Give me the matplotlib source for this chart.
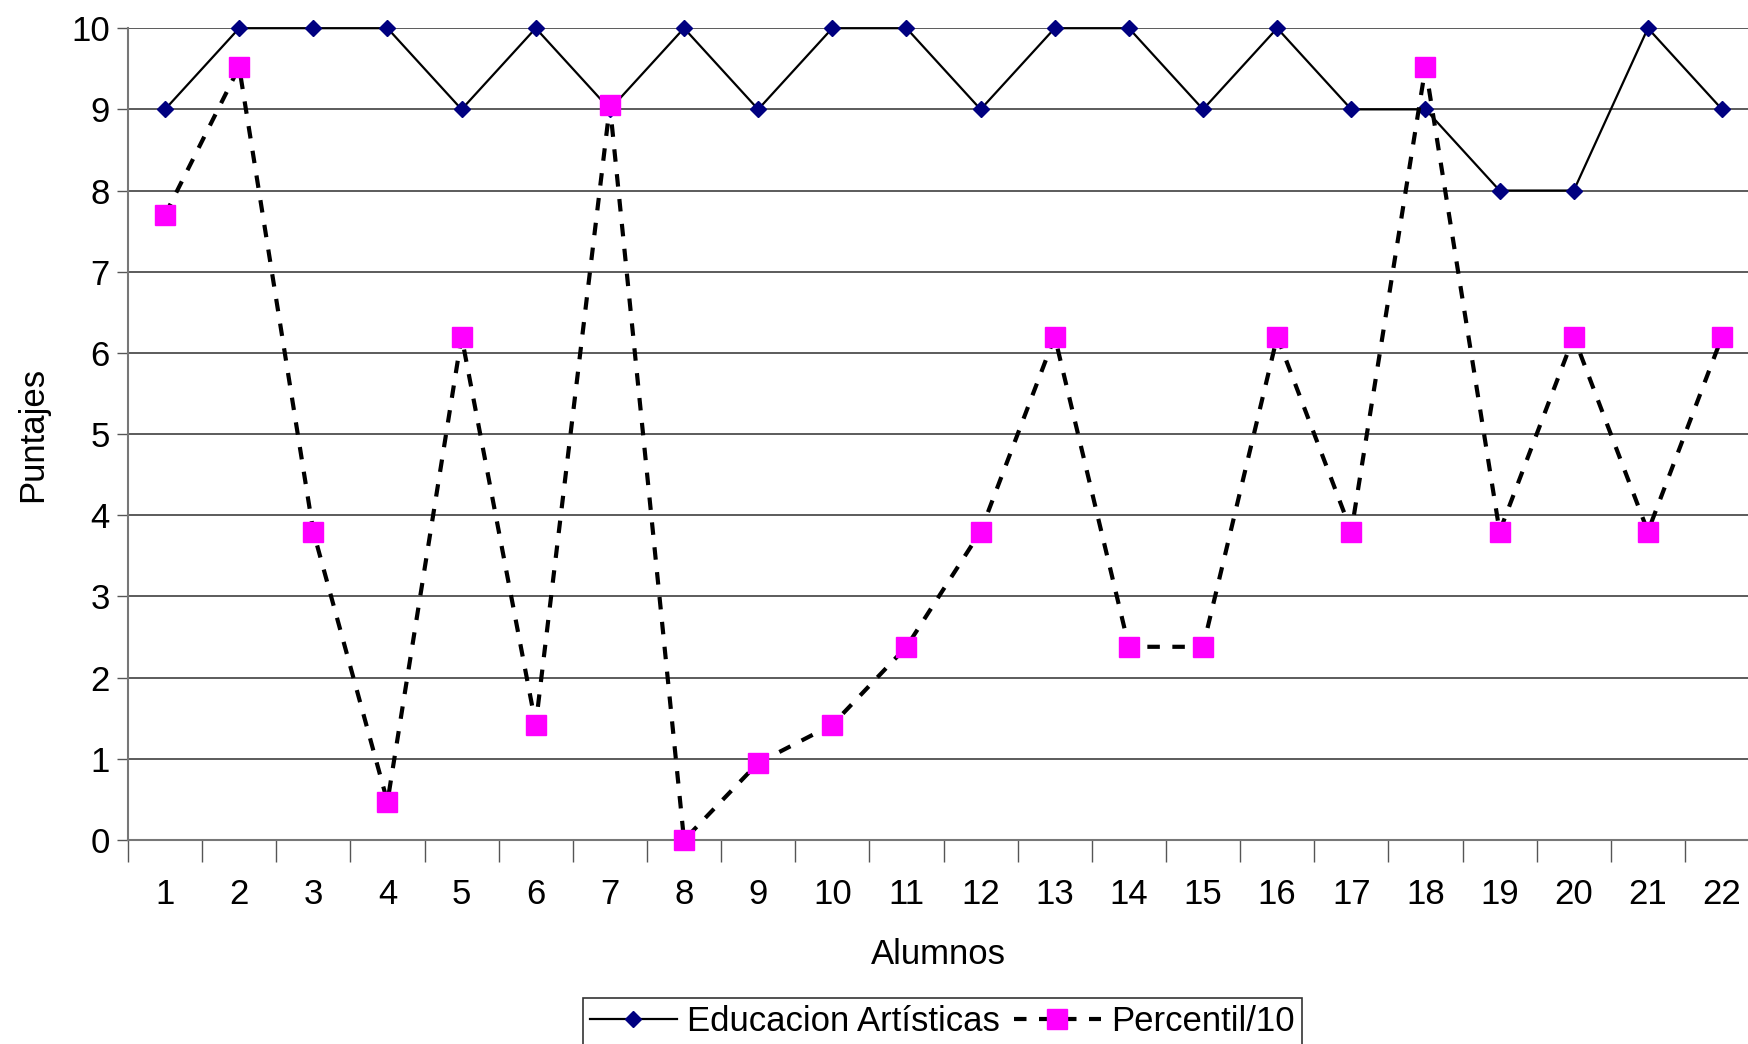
import matplotlib
matplotlib.use("Agg")
import matplotlib.pyplot as plt

alumnos = list(range(1, 23))
educacion = [9, 10, 10, 10, 9, 10, 9, 10, 9, 10, 10, 9, 10, 10, 9, 10, 9, 9, 8, 8, 10, 9]
percentil = [7.7, 9.52, 3.8, 0.47, 6.2, 1.42, 9.05, 0.0, 0.95, 1.42, 2.38, 3.8,
             6.2, 2.38, 2.38, 6.2, 3.8, 9.52, 3.8, 6.2, 3.8, 6.2]
y_ticks = list(range(0, 11))

plt.rcParams['font.family'] = ['Liberation Sans', 'DejaVu Sans']

fig = plt.figure(figsize=(17.48, 10.44), dpi=100)
ax = fig.add_axes([0.0732, 0.1954, 0.9268, 0.7776])

ax.plot(alumnos, educacion, color='black', lw=1.6, marker='D', markersize=8,
        markerfacecolor='#000080', markeredgecolor='#000080',
        label='Educacion Artísticas', zorder=3, clip_on=False)
ax.plot(alumnos, percentil, color='black', lw=3, linestyle=(0, (3, 3)),
        marker='s', markersize=15, markerfacecolor='#FF00FF',
        markeredgecolor='#FF00FF', label='Percentil/10', zorder=4, clip_on=False)

ax.set_ylim(0, 10)
ax.set_xlim(0.5, 22.35)
ax.set_yticks(y_ticks)
ax.grid(axis='y', color='#404040', lw=1.2)
ax.set_axisbelow(True)

# category ticks between points, labels centered under points
ax.set_xticks([i + 0.5 for i in range(0, 22)])
ax.set_xticklabels([])
ax.set_xticks(alumnos, minor=True)
ax.set_xticklabels([str(a) for a in alumnos], minor=True)
ax.tick_params(axis='x', which='major', direction='out', length=16, width=1, color='#555555')
ax.tick_params(axis='x', which='minor', length=0, pad=27, labelsize=25)
ax.tick_params(axis='y', direction='out', length=8, width=1, color='#555555', labelsize=25, pad=5)

for side in ['top', 'right']:
    ax.spines[side].set_visible(False)
for side in ['left', 'bottom']:
    ax.spines[side].set_color('#777777')
    ax.spines[side].set_linewidth(1.5)

ax.set_xlabel('Alumnos', fontsize=25, labelpad=20)
ax.set_ylabel('Puntajes', fontsize=25, labelpad=16)

leg = fig.legend(loc='upper center', bbox_to_anchor=(0.539, 0.044), ncol=2,
                 fontsize=25, frameon=True, fancybox=False, edgecolor='black',
                 handlelength=2.5, columnspacing=0.4, handletextpad=0.3,
                 borderpad=0.2, borderaxespad=0)
leg.get_frame().set_linewidth(1.2)

fig.savefig('out.png', dpi=100)
